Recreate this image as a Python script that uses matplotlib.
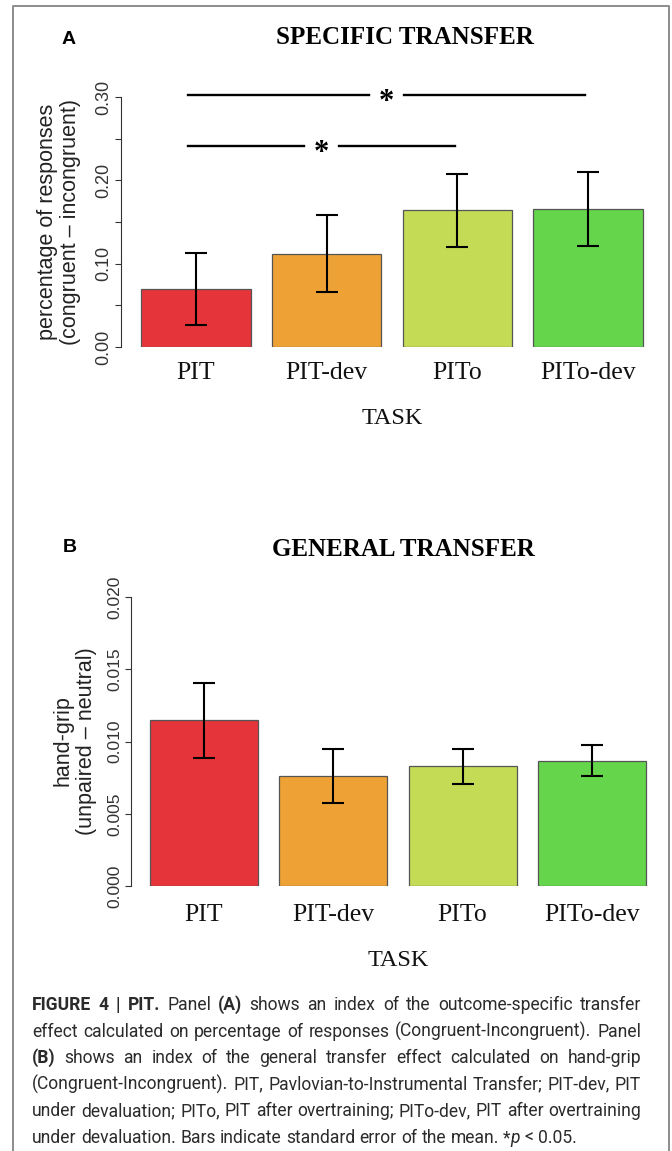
import re
import numpy as np
import matplotlib
matplotlib.use("Agg")
import matplotlib.pyplot as plt
from matplotlib import font_manager as fm
from matplotlib.lines import Line2D
from matplotlib.transforms import IdentityTransform

# ---------------------------- data ----------------------------
tasks      = ["PIT", "PIT-dev", "PITo", "PITo-dev"]
bar_colors = ["#E5343A", "#EEA235", "#C4DC55", "#65D54B"]

spec_mean = [0.0697, 0.112, 0.164, 0.1655]     # panel A, % responses
spec_se   = [0.043, 0.046, 0.044, 0.0445]
gen_mean  = [0.01146, 0.00761, 0.00827, 0.00868]  # panel B, hand-grip
gen_se    = [0.0026, 0.00187, 0.00121, 0.00107]

sig_pairs  = [(0, 3), (0, 2)]
sig_height = [0.302, 0.241]

spec_ticks  = [0.0, 0.05, 0.10, 0.15, 0.20, 0.25, 0.30]
spec_tlabs  = ["0.00", "", "0.10", "", "0.20", "", "0.30"]
gen_ticks   = [0.0, 0.005, 0.010, 0.015, 0.020]
gen_tlabs   = ["0.000", "0.005", "0.010", "0.015", "0.020"]

caption = [
    "<b>FIGURE 4 | PIT.</b> Panel <b>(A)</b> shows an index of the outcome-specific transfer",
    "effect calculated on percentage of responses (Congruent-Incongruent). Panel",
    "<b>(B)</b> shows an index of the general transfer effect calculated on hand-grip",
    "(Congruent-Incongruent). PIT, Pavlovian-to-Instrumental Transfer; PIT-dev, PIT",
    "under devaluation; PITo, PIT after overtraining; PITo-dev, PIT after overtraining",
    "under devaluation. Bars indicate standard error of the mean. *<i>p</i> < 0.05.",
]

# ---------------------------- style ---------------------------
W, H = 672, 1151
SERIF = "Liberation Serif"
SANS  = "Liberation Sans"

def have(fam):
    try:
        fm.findfont(fm.FontProperties(family=fam), fallback_to_default=False)
        return True
    except ValueError:
        return False

CAPF = next((f for f in ["Liberation Sans Narrow", "DejaVu Sans Condensed", "Roboto"] if have(f)), SANS)

fig = plt.figure(figsize=(W / 100, H / 100), dpi=100)
fig.patch.set_facecolor("white")

def px_axes(l, t, r, b):
    return fig.add_axes([l / W, 1 - b / H, (r - l) / W, (b - t) / H])

def panel(ax, means, ses, ylim, ticks, tlabs, xlim, tick_fs, xpad):
    x = np.arange(len(tasks))
    ax.bar(x, means, width=0.835, color=bar_colors, edgecolor="#555555",
           linewidth=0.9, zorder=2)
    ax.errorbar(x, means, yerr=ses, fmt="none", ecolor="black",
                elinewidth=1.5, capsize=8, capthick=1.5, zorder=3)
    ax.set_xlim(*xlim)
    ax.set_ylim(*ylim)
    for s in ["top", "right", "bottom"]:
        ax.spines[s].set_visible(False)
    ax.spines["left"].set_bounds(ticks[0], ticks[-1])
    ax.spines["left"].set_color("#333333")
    ax.spines["left"].set_linewidth(0.8)
    ax.set_yticks(ticks)
    ax.set_yticklabels(tlabs, fontfamily=SANS, fontsize=tick_fs, color="#333333")
    plt.setp(ax.get_yticklabels(), rotation=90, va="center")
    ax.tick_params(axis="y", length=4, width=0.8, color="#333333", pad=2)
    ax.set_xticks(x)
    ax.set_xticklabels(tasks, fontfamily=SERIF, fontsize=18.5, color="#111111")
    ax.tick_params(axis="x", length=0, pad=xpad)
    ax.patch.set_alpha(0)

# ---------------------------- panel A -------------------------
axA = px_axes(121, 347 - 0.32 * 833.3, 663, 347)
panel(axA, spec_mean, spec_se, (0, 0.32), spec_ticks, spec_tlabs,
      (-0.574, 3.574), 13, 11)
for (a, b), h in zip(sig_pairs, sig_height):
    mid = (a - 0.06 + b - 0.02) / 2
    axA.plot([a - 0.06, mid - 0.135], [h, h], color="black", lw=1.7, clip_on=False)
    axA.plot([mid + 0.135, b - 0.02], [h, h], color="black", lw=1.7, clip_on=False)
    axA.annotate("*", (mid, h), xytext=(0, -5), textcoords="offset points",
                 ha="center", va="center", fontsize=22, fontweight="bold",
                 fontfamily=SERIF, annotation_clip=False)

# ---------------------------- panel B -------------------------
axB = px_axes(131, 597, 665, 886)
panel(axB, gen_mean, gen_se, (0, 0.02), gen_ticks, gen_tlabs,
      (-0.565, 3.565), 12.5, 13)

# ---------------------------- figure texts --------------------
def ftext(x, y, s, **kw):
    fig.text(x / W, 1 - y / H, s, **kw)

ftext(69, 40, "A", fontfamily=SANS, fontweight="bold", fontsize=14, ha="center", va="center")
ftext(70, 548, "B", fontfamily=SANS, fontweight="bold", fontsize=14, ha="center", va="center")
ftext(405, 37, "SPECIFIC TRANSFER", fontfamily=SERIF, fontweight="bold", fontsize=18,
      ha="center", va="center")
ftext(403, 550, "GENERAL TRANSFER", fontfamily=SERIF, fontweight="bold", fontsize=18,
      ha="center", va="center")
ftext(392, 418, "TASK", fontfamily=SERIF, fontsize=17.5, ha="center", va="center", color="#111111")
ftext(398, 961, "TASK", fontfamily=SERIF, fontsize=17.5, ha="center", va="center", color="#111111")
ftext(59, 222, "percentage of responses\n(congruent \u2013 incongruent)", fontfamily=SANS,
      fontsize=15.5, rotation=90, ha="center", va="center", multialignment="center",
      linespacing=1.15, color="#222222")
ftext(74.5, 741, "hand-grip\n(unpaired \u2013 neutral)", fontfamily=SANS,
      fontsize=15.5, rotation=90, ha="center", va="center", multialignment="center",
      linespacing=1.15, color="#222222")

# outer frame (open at the bottom)
fig.add_artist(Line2D([13, 13, 669, 669], [0, H - 6, H - 6, 0], color="#8c8c8c",
                      lw=1.4, transform=IdentityTransform()))

# ---------------------------- caption -------------------------
fig.canvas.draw()
rend = fig.canvas.get_renderer()

def parse(line):
    words = [[]]
    for part in re.split(r"(<b>.*?</b>|<i>.*?</i>)", line):
        if not part:
            continue
        style = ""
        if part.startswith("<b>"):
            style, part = "b", part[3:-4]
        elif part.startswith("<i>"):
            style, part = "i", part[3:-4]
        pieces = part.split(" ")
        for k, p in enumerate(pieces):
            if k > 0:
                words.append([])
            if p:
                words[-1].append((p, style))
    return [w for w in words if w]

def fprops(style, size):
    return fm.FontProperties(family=CAPF, size=size,
                             weight="bold" if style == "b" else "normal",
                             style="italic" if style == "i" else "normal")

def tw(s, style, size):
    t = fig.text(0, 0, s, fontproperties=fprops(style, size))
    w = t.get_window_extent(rend).width
    t.remove()
    return w

lines = [parse(l) for l in caption]
X0, X1 = 32, 641

def natural(words, size):
    sp = tw("a a", "", size) - tw("aa", "", size)
    ws = [sum(tw(s, st, size) for s, st in w) for w in words]
    return ws, sp

base = 10.0
widest = 0
for words in lines[:-1]:
    ws, sp = natural(words, base)
    widest = max(widest, sum(ws) + sp * (len(ws) - 1))
size = base * (X1 - X0 - 4) / widest

for i, words in enumerate(lines):
    ws, sp = natural(words, size)
    gap = sp if i == len(lines) - 1 else (X1 - X0 - sum(ws)) / (len(ws) - 1)
    x = X0
    yb = H - (1010 + i * 26.6)
    for w, wd in zip(words, ws):
        xx = x
        for s, st in w:
            fig.text(xx, yb, s, fontproperties=fprops(st, size), color="#2b2b2b",
                     ha="left", va="baseline", transform=IdentityTransform())
            xx += tw(s, st, size)
        x += wd + gap

fig.savefig("out.png", dpi=100, facecolor="white")
